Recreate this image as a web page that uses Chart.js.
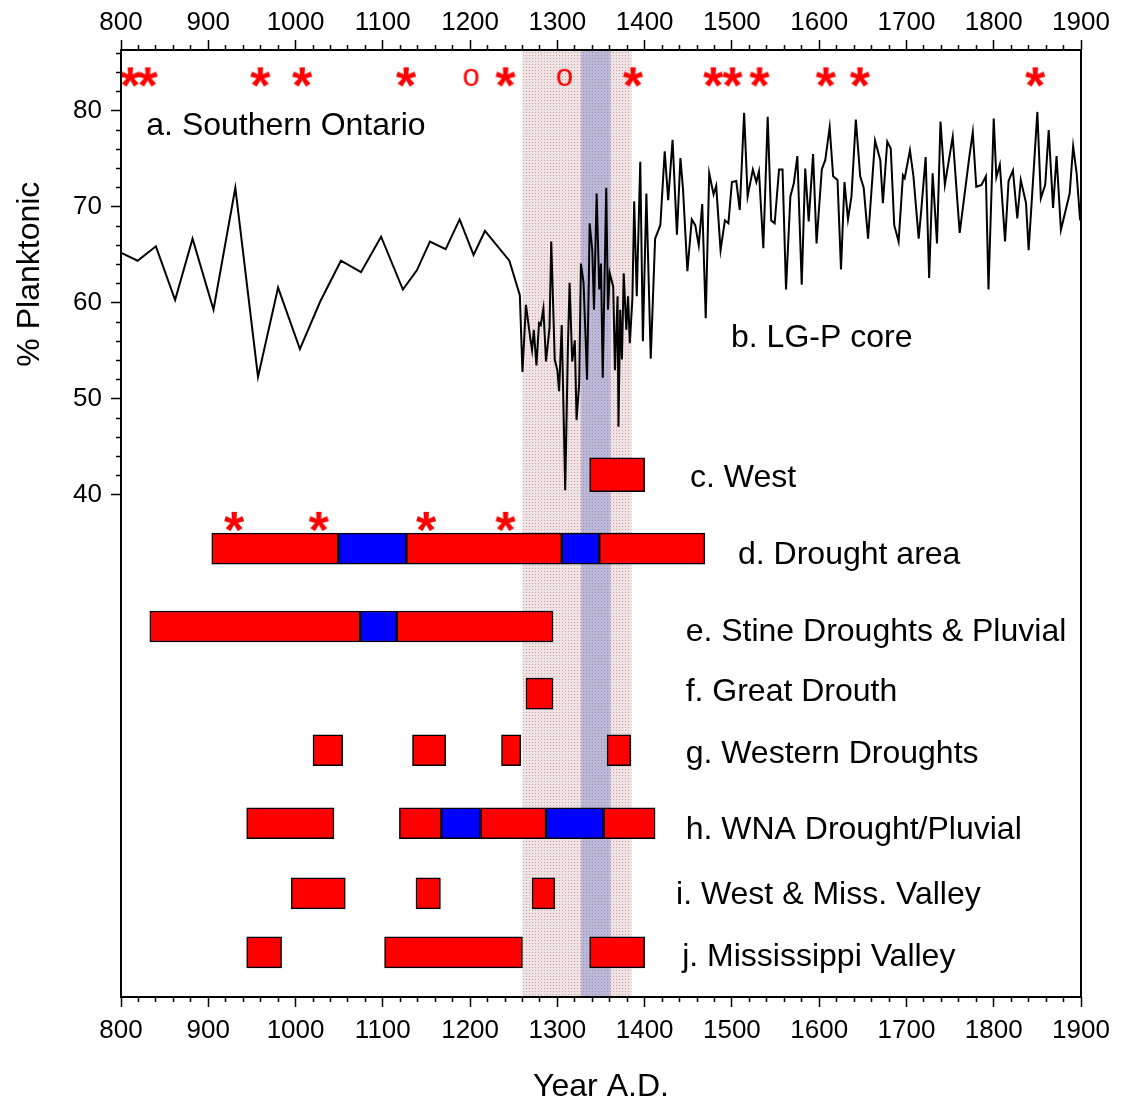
<!DOCTYPE html>
<html lang="en">
  <head>
    <meta charset="UTF-8" />
    <title>% Planktonic and drought records</title>
    <script src="https://cdn.jsdelivr.net/npm/chart.js"></script>
    <style>
      body { margin: 0; background: #fff; }
      canvas { display: block; }
    </style>
  </head>
  <body>
    <canvas id="droughtChart" width="1127" height="1103"></canvas>
    <script>
      // LG-P core, % planktonic (year A.D.)
      const years = [
        801, 819, 840, 862, 882, 906, 931, 957, 980, 1005,
        1028, 1052, 1075, 1098, 1123, 1139, 1154, 1172, 1188, 1204,
        1217, 1245, 1257, 1260, 1264, 1269, 1271, 1273, 1276, 1279,
        1281, 1284, 1287, 1291, 1293, 1297, 1300, 1302, 1305, 1309,
        1312, 1314, 1317, 1320, 1322, 1325, 1327, 1330, 1332, 1334,
        1336, 1337, 1340, 1342, 1345, 1348, 1350, 1352, 1356, 1358,
        1360, 1364, 1366, 1369, 1370, 1372, 1374, 1376, 1379, 1381,
        1383, 1386,
        1388, 1391, 1395, 1398, 1402, 1407, 1412, 1418, 1423, 1427,
        1432, 1437, 1441, 1444, 1449, 1454, 1458, 1462, 1466, 1470,
        1474, 1479, 1482, 1487, 1492, 1496, 1500, 1505, 1509, 1514,
        1518, 1524, 1528, 1531, 1536, 1541, 1545, 1549, 1554, 1558,
        1562, 1567, 1571, 1575, 1580, 1584, 1588, 1593, 1597, 1603,
        1607, 1612, 1616, 1621, 1625, 1629, 1633, 1637, 1642, 1647,
        1651, 1656, 1664, 1670, 1673, 1678, 1682, 1686, 1691, 1696,
        1698, 1704, 1708, 1714, 1717, 1722, 1726, 1730, 1735, 1739,
        1744, 1753, 1761, 1772, 1776, 1780, 1786, 1791, 1794, 1800,
        1803, 1807, 1813, 1817, 1822, 1827, 1831, 1837, 1840, 1850,
        1854, 1859, 1863, 1868, 1872, 1877, 1887, 1891, 1895, 1899,
      ]
      const planktonic = [
        65.2, 64.4, 65.9, 60.3, 66.7, 59.3, 72.0, 52.3, 61.6, 55.2,
        60.1, 64.4, 63.2, 66.9, 61.4, 63.4, 66.4, 65.6, 68.7, 65.0,
        67.5, 64.4, 60.8, 52.8, 59.8, 56.3, 55.1, 57.2, 53.5, 57.9,
        57.7, 59.4, 53.9, 57.4, 66.4, 54.1, 53.0, 50.8, 57.7, 40.5,
        55.1, 62.1, 53.9, 56.1, 47.8, 51.6, 64.1, 62.1, 57.2, 52.0,
        62.1, 68.3, 65.5, 59.3, 71.4, 61.4, 64.1, 52.2, 72.0, 59.3,
        63.1, 61.7, 53.0, 60.7, 47.1, 59.3, 54.1, 63.1, 57.2, 60.7,
        55.8, 60.5,
        70.6, 60.7, 74.7, 56.0, 71.4, 54.2, 66.7, 68.1, 75.8, 70.7,
        77.0, 67.1, 75.1, 71.8, 63.3, 68.7, 68.1, 66.0, 70.3, 58.4,
        73.5, 71.3, 72.2, 65.5, 68.6, 68.3, 72.6, 72.7, 69.7, 79.8,
        71.1, 73.9, 72.6, 73.7, 65.7, 79.4, 68.6, 68.3, 73.9, 73.9,
        61.4, 71.1, 72.5, 75.3, 61.9, 74.0, 68.5, 75.5, 66.2, 73.9,
        74.9, 78.3, 73.2, 72.8, 63.5, 72.6, 68.7, 71.1, 79.1, 73.2,
        72.0, 66.7, 76.9, 74.9, 70.4, 76.8, 76.1, 68.1, 66.4, 73.3,
        73.0, 75.9, 73.2, 66.7, 69.7, 75.2, 62.6, 73.5, 66.2, 78.9,
        72.3, 77.3, 67.3, 75.2, 77.8, 72.1, 72.3, 73.2, 61.4, 79.2,
        73.1, 74.4, 66.4, 72.7, 73.8, 68.8, 72.8, 70.4, 65.5, 79.9,
        70.9, 72.3, 78.0, 69.9, 75.3, 67.6, 71.4, 76.3, 73.5, 68.6,
      ]

      // red markers along the top and above row d
      const topStars = [811, 831, 960, 1008, 1127, 1241, 1387, 1479, 1501, 1532, 1608, 1647, 1848]
      const topCircles = [1201, 1308]
      const droughtStars = [930, 1027, 1150, 1241]
      const starLevel = 83.5
      const droughtStarLevel = 37.2

      // shaded intervals
      const lightBand = [1260, 1385]
      const darkBand = [1327, 1361]

      // drought (red) and pluvial (blue) intervals, rows c..j
      const westC = [[1337, 1400]]
      const droughtAreaRed = [[904, 1049], [1127, 1305], [1348, 1469]]
      const droughtAreaBlue = [[1049, 1127], [1305, 1348]]
      const stineRed = [[833, 1074], [1116, 1295]]
      const stineBlue = [[1074, 1116]]
      const greatDrouth = [[1264, 1295]]
      const westernDroughts = [[1020, 1054], [1134, 1172], [1236, 1258], [1357, 1384]]
      const wnaRed = [[944, 1044], [1119, 1167], [1212, 1287], [1353, 1412]]
      const wnaBlue = [[1167, 1212], [1287, 1353]]
      const westMiss = [[995, 1057], [1138, 1166], [1271, 1297]]
      const missValley = [[944, 984], [1102, 1260], [1337, 1400]]
      const rowLevel = [42.1, 34.4, 26.3, 19.3, 13.4, 5.8, -1.5, -7.65]

      // panel labels
      const panelLabels = [
        "a. Southern Ontario", "b. LG-P core", "c. West", "d. Drought area",
        "e. Stine Droughts & Pluvial", "f. Great Drouth", "g. Western Droughts",
        "h. WNA Drought/Pluvial", "i. West & Miss. Valley", "j. Mississippi Valley",
      ]
      const labelYear = [829, 1499, 1452, 1507, 1447, 1447, 1447, 1447, 1436, 1443]
      const labelLevel = [78.65, 56.6, 42.0, 34.0, 25.9, 19.7, 13.2, 5.3, -1.5, -7.9]

      const FONT = '"Liberation Sans", Arial, sans-serif'
      const RED = "#ff0000"
      const BLUE = "#0000ff"

      // glyph drawn into a small canvas, used as a point style
      function glyph(ch, font, color) {
        const c = document.createElement("canvas")
        let g = c.getContext("2d")
        g.font = font
        const m = g.measureText(ch)
        c.width = Math.ceil(m.actualBoundingBoxLeft + m.actualBoundingBoxRight) + 2
        c.height = Math.ceil(m.actualBoundingBoxAscent + m.actualBoundingBoxDescent) + 2
        g = c.getContext("2d")
        g.font = font
        g.fillStyle = color
        g.fillText(ch, 1 + m.actualBoundingBoxLeft, 1 + m.actualBoundingBoxAscent)
        return c
      }
      const starImg = glyph("*", `bold 52px ${FONT}`, RED)
      const circleImg = glyph("o", `31px ${FONT}`, RED)

      function dotted(ctx, base, dot) {
        const t = document.createElement("canvas")
        t.width = 3
        t.height = 3
        const g = t.getContext("2d")
        g.fillStyle = base
        g.fillRect(0, 0, 3, 3)
        g.fillStyle = dot
        g.fillRect(1, 1, 1, 1)
        return ctx.createPattern(t, "repeat")
      }

      const bandPlugin = {
        id: "bands",
        beforeDatasetsDraw(chart) {
          const { ctx, chartArea: a, scales: { x } } = chart
          const paint = (range, fill) => {
            const x0 = x.getPixelForValue(range[0])
            const x1 = x.getPixelForValue(range[1])
            ctx.fillStyle = fill
            ctx.fillRect(x0, a.top, x1 - x0, a.bottom - a.top)
          }
          ctx.save()
          paint(lightBand, dotted(ctx, "#efe3e3", "#c9a2a2"))
          paint(darkBand, dotted(ctx, "#bcb8d6", "#9892bf"))
          ctx.restore()
        },
      }

      const textPlugin = {
        id: "panelText",
        afterDraw(chart) {
          const { ctx, chartArea: a, scales: { x, y } } = chart
          ctx.save()
          ctx.strokeStyle = "#000"
          ctx.lineWidth = 2
          ctx.strokeRect(a.left, a.top, a.right - a.left, a.bottom - a.top)
          ctx.fillStyle = "#000"
          ctx.font = `32px ${FONT}`
          ctx.textBaseline = "alphabetic"
          panelLabels.forEach((t, i) => {
            ctx.fillText(t, x.getPixelForValue(labelYear[i]), y.getPixelForValue(labelLevel[i]) + 11)
          })
          // y axis title
          ctx.translate(a.left - 93, y.getPixelForValue(63))
          ctx.rotate(-Math.PI / 2)
          ctx.textAlign = "center"
          ctx.fillText("% Planktonic", 0, 11)
          ctx.restore()
        },
      }

      function barRow(segments, level, color, thickness) {
        return {
          type: "bar",
          indexAxis: "y",
          grouped: false,
          data: segments.map((s) => ({ x: s, y: level })),
          backgroundColor: color,
          borderColor: "#000",
          borderWidth: 1.5,
          borderSkipped: false,
          barThickness: thickness || 31,
          xAxisID: "x",
          yAxisID: "y",
        }
      }

      function markers(list, level, img) {
        return {
          type: "scatter",
          data: list.map((v) => ({ x: v, y: level })),
          pointStyle: img,
          pointRadius: 10,
          clip: false,
          xAxisID: "x",
          yAxisID: "y",
        }
      }

      const datasets = [
        markers(topStars, starLevel, starImg),
        markers(topCircles, starLevel, circleImg),
        markers(droughtStars, droughtStarLevel, starImg),
        {
          type: "line",
          data: years.map((v, i) => ({ x: v, y: planktonic[i] })),
          borderColor: "#000",
          borderWidth: 2,
          pointRadius: 0,
          tension: 0,
          xAxisID: "x",
          yAxisID: "y",
        },
        barRow(westC, rowLevel[0], RED, 34),
        barRow(droughtAreaRed, rowLevel[1], RED),
        barRow(droughtAreaBlue, rowLevel[1], BLUE),
        barRow(stineRed, rowLevel[2], RED),
        barRow(stineBlue, rowLevel[2], BLUE),
        barRow(greatDrouth, rowLevel[3], RED),
        barRow(westernDroughts, rowLevel[4], RED),
        barRow(wnaRed, rowLevel[5], RED),
        barRow(wnaBlue, rowLevel[5], BLUE),
        barRow(westMiss, rowLevel[6], RED),
        barRow(missValley, rowLevel[7], RED),
      ]

      // ticks every `step`, short marks unless on a multiple of `major`
      const tickSet = (lo, hi, step) => (scale) => {
        const t = []
        for (let v = lo; v <= hi; v += step) t.push({ value: v })
        scale.ticks = t
      }
      const minor = (c, major) => c.tick && c.tick.value % major !== 0
      const tickFont = { family: FONT, size: 26 }

      new Chart(document.getElementById("droughtChart"), {
        type: "line",
        data: { datasets },
        options: {
          responsive: false,
          animation: false,
          events: [],
          layout: { padding: { top: 0, right: 46, bottom: 0, left: 0 } },
          plugins: { legend: { display: false }, tooltip: { enabled: false } },
          scales: {
            x: {
              type: "linear",
              position: "bottom",
              min: 800,
              max: 1900,
              offset: false,
              afterBuildTicks: tickSet(800, 1900, 20),
              afterFit: (s) => { s.height = 106 },
              border: { display: false },
              grid: {
                drawOnChartArea: false,
                offset: false,
                tickLength: 10,
                tickWidth: 1.5,
                tickColor: "#000",
                tickBorderDash: (c) => (minor(c, 100) ? [5, 30] : []),
              },
              ticks: {
                autoSkip: false,
                maxRotation: 0,
                padding: 8,
                color: "#000",
                font: tickFont,
                callback: (v) => (v % 100 === 0 ? v : ""),
              },
              title: {
                display: true,
                text: "Year A.D.",
                color: "#000",
                font: { family: FONT, size: 32, lineHeight: 1 },
                padding: { top: 0, bottom: 0 },
              },
            },
            xTop: {
              type: "linear",
              position: "top",
              min: 800,
              max: 1900,
              offset: false,
              afterBuildTicks: tickSet(800, 1900, 20),
              afterFit: (s) => { s.height = 50 },
              border: { display: false },
              grid: {
                drawOnChartArea: false,
                offset: false,
                tickLength: 10,
                tickWidth: 1.5,
                tickColor: "#000",
                tickBorderDash: (c) => (minor(c, 100) ? [0, 5, 5, 30] : []),
              },
              ticks: {
                autoSkip: false,
                maxRotation: 0,
                padding: 2,
                color: "#000",
                font: tickFont,
                callback: (v) => (v % 100 === 0 ? v : ""),
              },
            },
            y: {
              type: "linear",
              position: "left",
              min: -12.3,
              max: 86.35,
              offset: false,
              afterBuildTicks: tickSet(40, 86, 2),
              afterFit: (s) => { s.width = 121 },
              border: { display: false },
              grid: {
                drawOnChartArea: false,
                offset: false,
                tickLength: 10,
                tickWidth: 1.5,
                tickColor: "#000",
                tickBorderDash: (c) => (minor(c, 10) ? [0, 5, 5, 30] : []),
              },
              ticks: {
                autoSkip: false,
                padding: 9,
                color: "#000",
                font: tickFont,
                callback: (v) => (v % 10 === 0 && v <= 80 ? v : ""),
              },
            },
          },
        },
        plugins: [bandPlugin, textPlugin],
      })
    </script>
  </body>
</html>
